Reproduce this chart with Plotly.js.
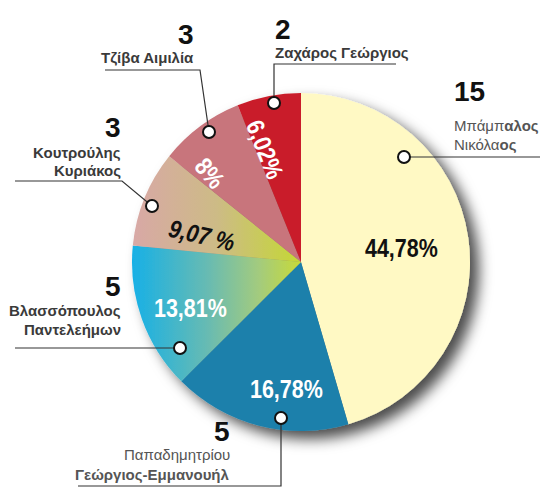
<!DOCTYPE html>
<html>
<head>
<meta charset="utf-8">
<script src="https://cdn.plot.ly/plotly-3.0.1.min.js"></script>
<style>
  html, body { margin: 0; padding: 0; background: #ffffff; }
  #chart { width: 542px; height: 487px; }
</style>
</head>
<body>
<div id="chart"></div>
<script>
// ---------------- DATA ----------------
const candidates = ['Μπάμπαλος Νικόλαος', 'Παπαδημητρίου Γεώργιος-Εμμανουήλ', 'Βλασσόπουλος Παντελεήμων', 'Κουτρούλης Κυριάκος', 'Τζίβα Αιμιλία', 'Ζαχάρος Γεώργιος'];
const percentValues = [44.78, 16.78, 13.81, 9.07, 8, 6.02];
const percentLabels = ['44,78%', '16,78%', '13,81%', '9,07 %', '8%', '6,02%'];
const seatLabels = ['15', '5', '5', '3', '3', '2'];
const nameLines = [
  ['Μπάμπ<b>αλος</b>', 'Νικόλα<b>ος</b>'],
  ['Παπαδημητρίου', '<b>Γεώργιος-Εμμανουήλ</b>'],
  ['Βλασσόπουλος', 'Παντελεήμων'],
  ['Κουτρούλης', 'Κυριάκος'],
  ['Τζίβα Αιμιλία'],
  ['Ζαχάρος Γεώργιος']
];
const sliceColors = ['#fff9c4', '#1f80ab', '#6cbcb0', '#cfb48e', '#c8747b', '#c91f2a'];

// ---------------- LAYOUT HELPERS ----------------
const W = 542, H = 487;
const PX = x => x / W;
const PY = y => 1 - y / H;
const PCT_FONT = '"Liberation Sans", Arial, sans-serif';
const LABEL_FONT = '"Liberation Sans", Arial, sans-serif';
const PCT_SQUEEZE = 0.86;

// pie geometry (pixels)
const cx = 301, cy = 262, R = 169;

// inside percentage label placement: [x, y, angle, color, italic]
const pctPlace = [
  [402, 248, 0, '#111111', false],
  [286, 389, 0, '#ffffff', false],
  [190, 308, 0, '#ffffff', false],
  [202, 235, 13, '#111111', true],
  [210, 173, 50, '#ffffff', false],
  [265, 149, 68, '#ffffff', false]
];

// outside label blocks
const blocks = [
  {x: 453, align: 'left',  num: 102, lines: [131, 150], nameColor: '#555555', marker: [404, 157], path: [[404,157],[540,157]]},
  {x: 231, align: 'right', num: 442, lines: [460, 480], nameColor: '#555555', marker: [281, 418], path: [[78,486],[281,486],[281,418]]},
  {x: 122, align: 'right', num: 297, lines: [316, 335], nameColor: '#3a3a3a', marker: [180, 348], path: [[15,348],[180,348]]},
  {x: 122, align: 'right', num: 138, lines: [158, 176], nameColor: '#3a3a3a', marker: [152, 206], path: [[15,181],[122,181],[152,206]]},
  {x: 195, align: 'right', num: 45,  lines: [63],       nameColor: '#3a3a3a', marker: [209, 132], path: [[105,70],[200,70],[209,132]]},
  {x: 274, align: 'left',  num: 40,  lines: [58],       nameColor: '#3a3a3a', marker: [274, 103], path: [[396,64],[274,64],[274,103]]}
];

function textAt(x, baseline, text, size, opt) {
  opt = opt || {};
  return {
    xref: 'paper', yref: 'paper',
    x: PX(x), y: PY(baseline - 0.36 * size),
    xanchor: opt.xanchor || 'center', yanchor: 'middle',
    showarrow: false, text: text, textangle: opt.angle || 0,
    borderpad: 0,
    font: {family: opt.family || LABEL_FONT, size: size, color: opt.color || '#222222',
           weight: opt.weight || 'normal', style: opt.style || 'normal'}
  };
}

const annotations = [];
const shapes = [];

percentLabels.forEach((t, i) => {
  const p = pctPlace[i];
  annotations.push({
    xref: 'paper', yref: 'paper', x: PX(p[0]), y: PY(p[1]),
    xanchor: 'center', yanchor: 'middle', showarrow: false,
    text: t, textangle: p[2], borderpad: 0,
    font: {family: PCT_FONT, size: 25, color: p[3], weight: 'bold', style: p[4] ? 'italic' : 'normal'}
  });
});

blocks.forEach((b, i) => {
  annotations.push(textAt(b.x, b.num, seatLabels[i], 28, {xanchor: b.align, color: '#111111', weight: 'bold'}));
  nameLines[i].forEach((ln, j) => {
    const bold = b.nameColor === '#3a3a3a';
    annotations.push(textAt(b.x, b.lines[j], ln, 15, {xanchor: b.align, color: b.nameColor, weight: bold ? 'bold' : 'normal'}));
  });
  const d = b.path.map((pt, k) => (k ? 'L' : 'M') + PX(pt[0]) + ',' + PY(pt[1])).join(' ');
  shapes.push({type: 'path', xref: 'paper', yref: 'paper', path: d, line: {color: '#333333', width: 1.2}, layer: 'above'});
});
blocks.forEach(b => {
  shapes.push({type: 'circle', xref: 'paper', yref: 'paper', xsizemode: 'pixel', ysizemode: 'pixel',
    xanchor: PX(b.marker[0]), yanchor: PY(b.marker[1]), x0: -6, x1: 6, y0: -6, y1: 6,
    fillcolor: '#ffffff', line: {color: '#111111', width: 2}, layer: 'above'});
});

const trace = {
  type: 'pie',
  values: percentValues,
  labels: candidates,
  sort: false,
  direction: 'clockwise',
  rotation: 0,
  textinfo: 'none',
  hoverinfo: 'none',
  marker: {colors: sliceColors, line: {width: 0}},
  domain: {x: [PX(cx - R), PX(cx + R)], y: [PY(cy + R), PY(cy - R)]},
  showlegend: false
};

const layout = {
  width: W, height: H, autosize: false,
  margin: {l: 0, r: 0, t: 0, b: 0, pad: 0},
  paper_bgcolor: '#ffffff', plot_bgcolor: '#ffffff',
  showlegend: false,
  annotations: annotations,
  shapes: shapes
};

Plotly.newPlot('chart', [trace], layout, {staticPlot: true, displayModeBar: false}).then(gd => {
  const svg = gd.querySelector('.main-svg');
  const NS = 'http://www.w3.org/2000/svg';
  const defs = document.createElementNS(NS, 'defs');
  defs.innerHTML =
    '<linearGradient id="gTeal" x1="0" y1="0" x2="1" y2="0">' +
      '<stop offset="0" stop-color="#17b0e6"/><stop offset="0.45" stop-color="#68bbb2"/>' +
      '<stop offset="0.75" stop-color="#a3cb7e"/><stop offset="1" stop-color="#c8da38"/></linearGradient>' +
    '<linearGradient id="gTan" x1="0" y1="0" x2="1" y2="0">' +
      '<stop offset="0" stop-color="#d8a8a6"/><stop offset="0.5" stop-color="#cdbb86"/>' +
      '<stop offset="1" stop-color="#c4d834"/></linearGradient>' +
    '<filter id="pieShadow" x="-20%" y="-20%" width="150%" height="150%">' +
      '<feDropShadow dx="9" dy="8" stdDeviation="7" flood-color="#000000" flood-opacity="0.7"/></filter>';
  svg.insertBefore(defs, svg.firstChild);
  const paths = gd.querySelectorAll('.pielayer .slice path.surface');
  if (paths[2]) paths[2].style.fill = 'url(#gTeal)';
  if (paths[3]) paths[3].style.fill = 'url(#gTan)';
  const tr = gd.querySelector('.pielayer .trace');
  if (tr) tr.setAttribute('filter', 'url(#pieShadow)');
  // condense the percentage labels horizontally (along their own baseline)
  for (let i = 0; i < percentLabels.length; i++) {
    const t = gd.querySelector('.annotation[data-index="' + i + '"] text.annotation-text');
    if (!t) continue;
    const bb = t.getBBox();
    const c = bb.x + bb.width / 2;
    t.setAttribute('transform', 'translate(' + c + ',0) scale(' + PCT_SQUEEZE + ',1) translate(' + (-c) + ',0)');
  }
});
</script>
</body>
</html>
